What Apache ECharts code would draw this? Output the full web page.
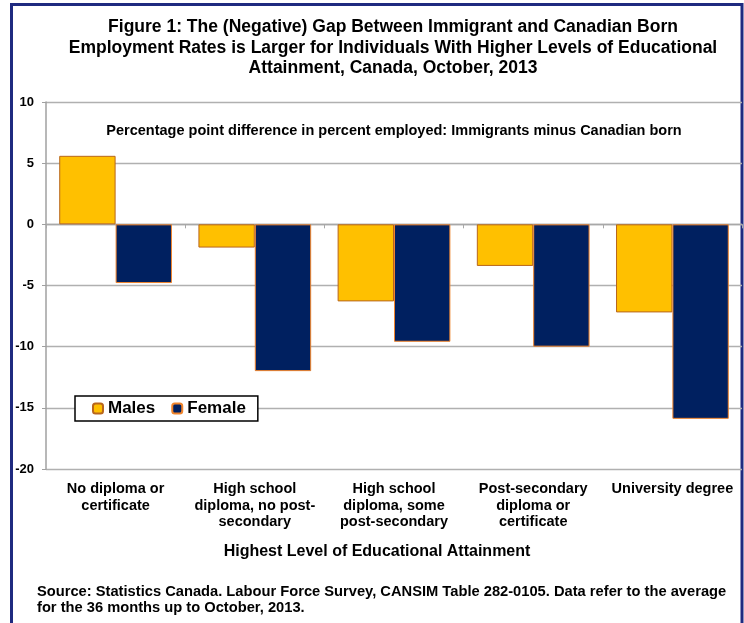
<!DOCTYPE html>
<html>
<head>
<meta charset="utf-8">
<script src="https://cdn.jsdelivr.net/npm/echarts@6/dist/echarts.min.js"></script>
<style>
  html, body { margin: 0; padding: 0; background: #fff; }
  #chart { width: 744px; height: 623px; }
</style>
</head>
<body>
<div id="chart"></div>
<script>
// categories on the x axis
var categories = [
  'No diploma or\ncertificate',
  'High school\ndiploma, no post-\nsecondary',
  'High school\ndiploma, some\npost-secondary',
  'Post-secondary\ndiploma or\ncertificate',
  'University degree'
];
// percentage point difference, immigrants minus Canadian born
var males = [5.6, -1.9, -6.3, -3.4, -7.2];
var female = [-4.8, -12.0, -9.6, -10.0, -15.9];
var yTicks = { min: -20, max: 10, interval: 5 };

var FONT = 'Liberation Sans, Arial, Helvetica, sans-serif';

var chart = echarts.init(document.getElementById('chart'));

var option = {
  animation: false,
  backgroundColor: '#fff',
  grid: { left: 46, right: 2, top: 102, bottom: 154 },
  legend: {
    left: 75,
    top: 396,
    orient: 'horizontal',
    data: ['Males', 'Female'],
    itemWidth: 10,
    itemHeight: 10,
    itemGap: 16,
    padding: [4, 12, 4, 17],
    borderColor: '#000',
    borderWidth: 1.5,
    backgroundColor: '#fff',
    textStyle: { fontFamily: FONT, fontWeight: 'bold', fontSize: 17, color: '#000' }
  },
  xAxis: [
    {
      // labels along the bottom
      type: 'category',
      data: categories,
      position: 'bottom',
      axisLine: { show: false, onZero: false },
      axisTick: { show: false },
      axisLabel: {
        interval: 0,
        margin: 12,
        fontFamily: FONT,
        fontWeight: 'bold',
        fontSize: 14.5,
        lineHeight: 16.5,
        color: '#000'
      }
    },
    {
      // axis line + ticks sitting on zero
      type: 'category',
      data: categories,
      position: 'top',
      axisLine: { show: true, onZero: true, lineStyle: { color: '#a8a8a8', width: 1.3 } },
      axisTick: { show: true, inside: true, length: 4, lineStyle: { color: '#a8a8a8' } },
      axisLabel: { show: false }
    }
  ],
  yAxis: {
    type: 'value',
    min: yTicks.min,
    max: yTicks.max,
    interval: yTicks.interval,
    axisLine: { show: true, lineStyle: { color: '#a0a0a0', width: 1.5 } },
    axisTick: { show: true, length: 4, lineStyle: { color: '#a0a0a0' } },
    splitLine: { lineStyle: { color: '#b0b0b0', width: 1.3 } },
    axisLabel: {
      margin: 12,
      fontFamily: FONT,
      fontWeight: 'bold',
      fontSize: 13,
      color: '#000'
    }
  },
  series: [
    {
      name: 'Males',
      type: 'bar',
      xAxisIndex: 0,
      data: males,
      barGap: '0%',
      barCategoryGap: '19%',
      itemStyle: { color: '#FFC000', borderColor: '#B8661C', borderWidth: 1 }
    },
    {
      name: 'Female',
      type: 'bar',
      xAxisIndex: 0,
      data: female,
      barGap: '0%',
      barCategoryGap: '19%',
      itemStyle: { color: '#002060', borderColor: '#F0842C', borderWidth: 1 }
    }
  ],
  graphic: [
    {
      type: 'rect',
      silent: true,
      shape: { x: 11.5, y: 4.5, width: 730.5, height: 700 },
      style: { fill: 'none', stroke: '#1f2a80', lineWidth: 3 }
    },
    {
      type: 'text',
      silent: true,
      style: {
        text: 'Figure 1: The (Negative) Gap Between Immigrant and Canadian Born\nEmployment Rates is Larger for Individuals With Higher Levels of Educational\nAttainment, Canada, October, 2013',
        x: 393, y: 17,
        textAlign: 'center', textVerticalAlign: 'top',
        font: 'bold 17.5px ' + FONT,
        lineHeight: 20.5,
        fill: '#000'
      }
    },
    {
      type: 'text',
      silent: true,
      style: {
        text: 'Percentage point difference in percent employed: Immigrants minus Canadian born',
        x: 394, y: 131,
        textAlign: 'center', textVerticalAlign: 'middle',
        font: 'bold 14.5px ' + FONT,
        fill: '#000'
      }
    },
    {
      type: 'text',
      silent: true,
      style: {
        text: 'Highest Level of Educational Attainment',
        x: 377, y: 552,
        textAlign: 'center', textVerticalAlign: 'middle',
        font: 'bold 16px ' + FONT,
        fill: '#000'
      }
    },
    {
      type: 'text',
      silent: true,
      style: {
        text: 'Source: Statistics Canada. Labour Force Survey, CANSIM Table 282-0105. Data refer to the average\nfor the 36 months up to October, 2013.',
        x: 37, y: 584,
        textAlign: 'left', textVerticalAlign: 'top',
        font: 'bold 14.7px ' + FONT,
        lineHeight: 16,
        fill: '#000'
      }
    }
  ]
};

chart.setOption(option);
</script>
</body>
</html>
